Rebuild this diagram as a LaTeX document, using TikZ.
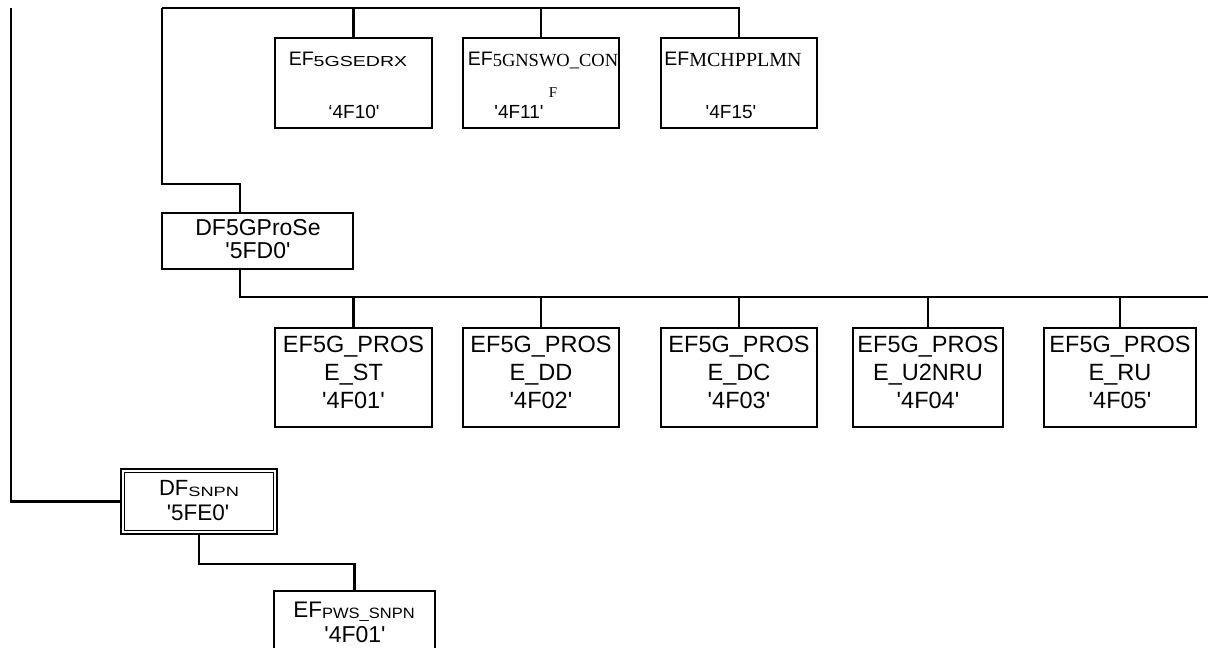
\documentclass[tikz,border=0pt]{standalone}
\usepackage{fontspec}
\setmainfont{Liberation Sans}[Ligatures=TeXOff]
\newfontfamily\serifsub{Liberation Serif}[Ligatures=TeXOff]
\usepackage{graphicx}
\newcommand\fs[1]{\fontsize{#1}{#1}\selectfont}
\newcommand\ssub[3][1.35]{\raisebox{-1pt}{\scalebox{#1}[1]{\fs{#2}#3}}}
\newcommand\rsub[2]{\raisebox{-1pt}{\serifsub\fs{#1}#2}}
\begin{document}
\begin{tikzpicture}[x=1pt,y=-1pt,
  box/.style={draw, line width=2.3pt, inner sep=0pt},
  conn/.style={line width=2.3pt},
  lbl/.style={anchor=base, inner sep=0pt}]
\clip (0,0) rectangle (1208,648);
\useasboundingbox (0,0) rectangle (1208,648);

% top row boxes
\node[box, minimum width=157pt, minimum height=90pt] (a1) at (353.5,83) {};
\node[box, minimum width=156pt, minimum height=90pt] (a2) at (541,83) {};
\node[box, minimum width=156pt, minimum height=90pt] (a3) at (739,83) {};
\node[lbl] (a1t) at (348,65) {\fs{19.5}EF\ssub{14.5}{5GSEDRX}};
\node[lbl] (a1c) at (354,118) {\fs{19}‘4F10'};
\node[lbl] (a2t) at (543,65) {\fs{19.5}EF\rsub{18.5}{5GNSWO\_CON}};
\node[lbl] (a2f) at (553,97) {\serifsub\fs{15}F};
\node[lbl] (a2c) at (519,118) {\fs{19}'4F11'};
\node[lbl] (a3t) at (733,65) {\fs{19.5}EF\rsub{20}{MCHPPLMN}};
\node[lbl] (a3c) at (731,118) {\fs{19}'4F15'};

% DF5GProSe
\node[box, minimum width=191pt, minimum height=56pt] (pse) at (257.5,241) {};
\node[lbl] (pset) at (258,235) {\fs{23}DF5GProSe};
\node[lbl] (psec) at (258,258) {\fs{23}'5FD0'};

% DF SNPN (double frame)
\node[box, minimum width=156pt, minimum height=65pt] (snpn) at (199,501.5) {};
\draw[line width=1pt] ([shift={(4.5,4.5)}]snpn.north west) rectangle ([shift={(-4.5,-4.5)}]snpn.south east);
\node[lbl] (snpnt) at (199,495) {\fs{22}DF\ssub{13.5}{SNPN}};
\node[lbl] (snpnc) at (198,520) {\fs{22.5}'5FE0'};

% bottom box
\node[box, minimum width=161pt, minimum height=90pt, anchor=north] (e1) at (354.5,590) {};
\node[lbl] (e1t) at (354,617) {\fs{22.5}EF\ssub[1.1]{15}{PWS\_SNPN}};
\node[lbl] (e1c) at (355,642) {\fs{23}'4F01'};

% connectors top
\coordinate (t0) at (162,8);
\coordinate (k1) at (162,184);
\draw[conn] (t0) -| (a3.north);
\draw[conn] (a1.north) -- (a1.north |- t0);
\draw[conn] (a2.north) -- (a2.north |- t0);
\draw[conn] (t0) -- (k1) -| ([xshift=-17.5pt]pse.north);

% second row
\coordinate (bus2) at (1210,297);
\draw[conn] ([xshift=-17.5pt]pse.south) |- (bus2);
\foreach \n/\x/\w/\s/\c in {b1/353.5/157/ST/4F01, b2/541/156/DD/4F02, b3/739/156/DC/4F03, b4/928/150/U2NRU/4F04, b5/1120/152/RU/4F05} {
  \node[box, minimum width=\w pt, minimum height=99pt] (\n) at (\x,377.5) {};
  \node[lbl] (\n l1) at (\x,352) {\fs{23.5}EF5G\_PROS};
  \node[lbl] (\n l2) at (\x,380) {\fs{23.5}E\_\s};
  \node[lbl] (\n l3) at (\x,408) {\fs{23.5}'\c'};
  \draw[conn] (\n.north) -- (\n.north |- bus2);
}

% left line and SNPN
\coordinate (l0) at (11,8);
\draw[conn] (l0) |- (snpn.west);
\draw[conn] (snpn.south) -- ++(0,29) -| (e1.north);
\end{tikzpicture}
\end{document}
